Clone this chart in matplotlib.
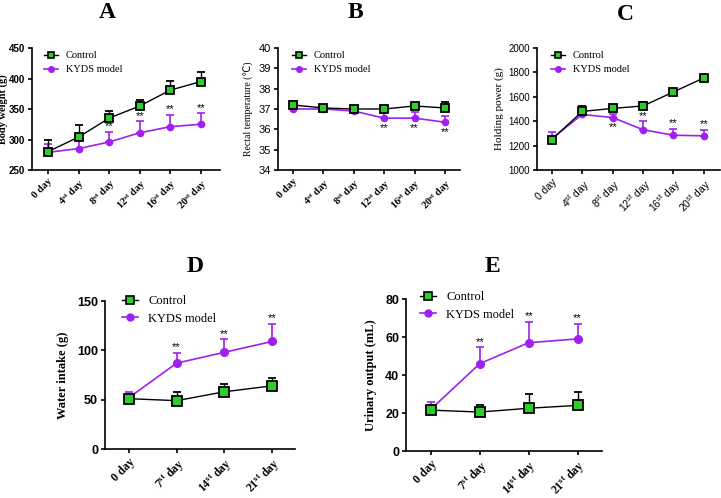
import matplotlib
matplotlib.use('Agg')
import matplotlib.pyplot as plt
from matplotlib.lines import Line2D
import numpy as np

##############
# PARAMETERS #
##############

GREEN = '#2ecc2e'
PURPLE = '#a020f0'
SERIF = ['Liberation Serif', 'DejaVu Sans']
SANS = ['Liberation Sans', 'DejaVu Sans']

########
# DATA #
########

days6 = ['0 day', r'$\mathregular{4^{st}}$ day', r'$\mathregular{8^{st}}$ day',
         r'$\mathregular{12^{st}}$ day', r'$\mathregular{16^{st}}$ day', r'$\mathregular{20^{st}}$ day']
days4 = ['0 day', r'$\mathregular{7^{st}}$ day', r'$\mathregular{14^{st}}$ day', r'$\mathregular{21^{st}}$ day']

# A - body weight
a_ctrl = [280, 304, 335, 355, 381, 395]
a_ctrl_err = [20, 19, 11, 10, 15, 16]
a_kyds = [279, 285, 296, 311, 321, 325]
a_kyds_err = [13, 15, 17, 19, 19, 18]
a_stars = [2, 3, 4, 5]

# B - rectal temperature
b_ctrl = [37.2, 37.05, 37.0, 37.0, 37.15, 37.05]
b_ctrl_err = [0.2, 0.1, 0.15, 0.1, 0.1, 0.3]
b_kyds = [37.0, 37.0, 36.9, 36.55, 36.55, 36.35]
b_kyds_err = [0.1, 0.2, 0.2, 0.3, 0.3, 0.3]
b_stars = [3, 4, 5]

# C - holding power
c_ctrl = [1250, 1480, 1505, 1525, 1640, 1755]
c_ctrl_err = [20, 45, 20, 35, 15, 20]
c_kyds = [1260, 1455, 1430, 1330, 1285, 1280]
c_kyds_err = [50, 20, 30, 70, 50, 50]
c_stars = [2, 3, 4, 5]

# D - water intake
d_ctrl = [51, 49, 58, 64]
d_ctrl_err = [3, 9, 8, 8]
d_kyds = [52, 87, 98, 109]
d_kyds_err = [6, 10, 13, 18]
d_stars = [1, 2, 3]

# E - urinary output
e_ctrl = [21.5, 20.5, 22.5, 24]
e_ctrl_err = [2, 3.5, 7.5, 7]
e_kyds = [22, 46, 57, 59]
e_kyds_err = [4, 8.5, 11, 8]
e_stars = [1, 2, 3]

W, H = 721, 498
fig = plt.figure(figsize=(W / 100, H / 100), dpi=100)


def box(l, r, t, b):
    return [l / W, 1 - b / H, (r - l) / W, (b - t) / H]


def panel(rect, xlim, ylim, yticks, labels, ctrl, ctrl_err, kyds, kyds_err,
          stars, ylabel, ylab_size, ylab_weight, ytick_size, ytick_weight,
          xtick_family, xtick_size, xtick_weight, leg_xy, leg_size, labelpad,
          star_below=(), msize=6):
    ax = fig.add_axes(rect)
    x = np.arange(len(ctrl))
    z = np.zeros(len(ctrl))
    ax.errorbar(x, kyds, yerr=[z, kyds_err], color=PURPLE, lw=1.2, capsize=3,
                capthick=1.2, marker='o', ms=msize - 1.5, mfc=PURPLE, mec=PURPLE,
                zorder=2)
    ax.errorbar(x, ctrl, yerr=[z, ctrl_err], color='black', lw=1.0, capsize=3,
                capthick=1.2, marker='s', ms=msize, mfc=GREEN, mec='black', mew=1.3,
                zorder=3)
    span = ylim[1] - ylim[0]
    for i in stars:
        if i in star_below:
            y = kyds[i] - 0.04 * span
            va = 'top'
        else:
            y = kyds[i] + kyds_err[i] + 0.005 * span
            va = 'bottom'
        ax.text(i, y, '**', ha='center', va=va, fontsize=8, family=SANS)
    ax.set_xlim(xlim)
    ax.set_ylim(ylim)
    ax.set_yticks(yticks)
    ax.set_xticks(x)
    ax.set_xticklabels(labels, rotation=45, ha='right', rotation_mode='anchor',
                       family=xtick_family, fontsize=xtick_size, fontweight=xtick_weight)
    for t in ax.get_yticklabels():
        t.set_family(SANS)
        t.set_fontsize(ytick_size)
        t.set_fontweight(ytick_weight)
    ax.set_ylabel(ylabel, family=SERIF, fontsize=ylab_size, fontweight=ylab_weight,
                  labelpad=labelpad)
    for s in ['top', 'right']:
        ax.spines[s].set_visible(False)
    for s in ['left', 'bottom']:
        ax.spines[s].set_linewidth(1.2)
    ax.tick_params(width=1.2, length=3, pad=2)
    handles = [Line2D([], [], color='black', lw=1.0, marker='s', ms=msize - 1,
                      mfc=GREEN, mec='black', mew=1.2),
               Line2D([], [], color=PURPLE, lw=1.2, marker='o', ms=msize - 2,
                      mfc=PURPLE, mec=PURPLE)]
    ax.legend(handles, ['Control', 'KYDS model'], loc='upper left', frameon=False,
              prop={'family': SERIF, 'size': leg_size}, handlelength=1.3,
              handletextpad=0.8, borderaxespad=0, borderpad=0, labelspacing=0.45,
              bbox_to_anchor=(leg_xy[0] / W, 1 - leg_xy[1] / H),
              bbox_transform=fig.transFigure)
    return ax


panel(box(32, 220, 48, 170), (-0.52, 5.62), (250, 450), [250, 300, 350, 400, 450],
      days6, a_ctrl, a_ctrl_err, a_kyds, a_kyds_err, a_stars,
      'Body weight (g)', 7.5, 'bold', 7, 'bold', SERIF, 7.5, 'bold',
      (44, 51), 7.5, 0.5)

panel(box(278, 460, 48, 170), (-0.49, 5.49), (34, 40), [34, 35, 36, 37, 38, 39, 40],
      days6, b_ctrl, b_ctrl_err, b_kyds, b_kyds_err, b_stars,
      'Rectal temperature (\u2103)', 7, 'normal', 8, 'normal', SERIF, 7.5, 'bold',
      (292, 51), 7.5, 3, star_below=b_stars)

panel(box(537, 720, 48, 170), (-0.49, 5.53), (1000, 2000), [1000, 1200, 1400, 1600, 1800, 2000],
      days6, c_ctrl, c_ctrl_err, c_kyds, c_kyds_err, c_stars,
      'Holding power (g)', 8, 'normal', 7, 'normal', SANS, 7.5, 'normal',
      (551, 51), 7.5, 3, star_below=[2])

panel(box(105, 295, 301, 449), (-0.5, 3.48), (0, 150), [0, 50, 100, 150],
      days4, d_ctrl, d_ctrl_err, d_kyds, d_kyds_err, d_stars,
      'Water intake (g)', 9, 'bold', 9, 'bold', SERIF, 8.5, 'bold',
      (122, 295), 9, 6, msize=7)

panel(box(406, 602, 299, 451), (-0.51, 3.5), (0, 80), [0, 20, 40, 60, 80],
      days4, e_ctrl, e_ctrl_err, e_kyds, e_kyds_err, e_stars,
      'Urinary output (mL)', 9, 'bold', 9, 'bold', SERIF, 8.5, 'bold',
      (420, 291), 9, 6, msize=7)

for letter, px, py in [('A', 107, 13), ('B', 355, 13), ('C', 625, 14),
                       ('D', 195, 266), ('E', 492, 266)]:
    fig.text(px / W, 1 - py / H, letter, ha='center', va='center',
             family=SERIF, fontsize=17, fontweight='bold')

fig.savefig('out.png', dpi=100)
